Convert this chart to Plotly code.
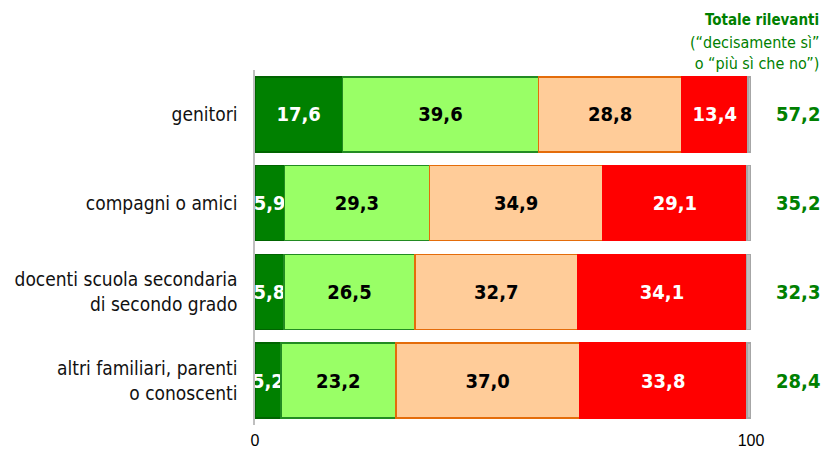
import plotly.graph_objects as go

categories = ["genitori", "compagni o amici", "docenti scuola secondaria<br>di secondo grado",
              "altri familiari, parenti<br>o conoscenti"]
decisamente_si = [17.6, 5.9, 5.8, 5.2]
piu_si_che_no = [39.6, 29.3, 26.5, 23.2]
piu_no_che_si = [28.8, 34.9, 32.7, 37.0]
decisamente_no = [13.4, 29.1, 34.1, 33.8]
non_risponde = [round(100 - a - b - c - d, 1) for a, b, c, d in
                zip(decisamente_si, piu_si_che_no, piu_no_che_si, decisamente_no)]
totale_rilevanti = [57.2, 35.2, 32.3, 28.4]
x_ticks = [0, 100]

def fmt(v):
    return f"{v:.1f}".replace(".", ",")

series = [
    (decisamente_si, "#008000", "#006400", "white", True),
    (piu_si_che_no, "#99FF66", "#228B22", "black", True),
    (piu_no_che_si, "#FFCC99", "#E46C0A", "black", True),
    (decisamente_no, "#FF0000", "#FF0000", "white", True),
    (non_risponde, "#BFBFBF", "#A6A6A6", "black", False),
]

W, H = 824, 452
L, R, T, B = 255, 73, 70, 27
PW, PH = W - L - R, H - T - B

LABEL_FONT = "DejaVu Sans Condensed, Tahoma, sans-serif"
NUM_FONT = "DejaVu Sans Condensed, sans-serif"
NUM_SIZE = 20
fig = go.Figure()
for vals, col, line, tcol, show in series:
    fig.add_trace(go.Bar(
        y=categories, x=vals, orientation="h",
        marker=dict(color=col, line=dict(color=line, width=1.5)),
        text=[fmt(v) for v in vals] if show else None,
        textposition="inside" if show else "none",
        insidetextanchor="middle", textangle=0,
        textfont=dict(color=tcol, size=NUM_SIZE, family=NUM_FONT, weight="bold"),
        showlegend=False, hoverinfo="skip",
    ))

for cat, t in zip(categories, totale_rilevanti):
    fig.add_annotation(x=(798 - L) / PW, y=cat, xref="paper", yref="y", text=f"<b>{fmt(t)}</b>",
                       xanchor="center", yanchor="middle",
                       showarrow=False, font=dict(color="#008000", size=NUM_SIZE, family=NUM_FONT))

fig.add_annotation(x=(821 - L) / PW, y=1 + (T - 20) / PH, xref="paper", yref="paper",
                   xanchor="right", yanchor="middle", align="right", showarrow=False,
                   text="<b>Totale rilevanti</b>",
                   font=dict(color="#008000", size=15, family=LABEL_FONT))
fig.add_annotation(x=(821 - L) / PW, y=1 + (T - 53) / PH, xref="paper", yref="paper",
                   xanchor="right", yanchor="middle", align="right", showarrow=False,
                   text="(“decisamente sì”<br>o “più sì che no”)",
                   font=dict(color="#008000", size=16, family=LABEL_FONT))
fig.update_layout(
    barmode="stack", bargap=0.155,
    width=W, height=H,
    margin=dict(l=L, r=R, t=T, b=B, autoexpand=False),
    plot_bgcolor="white", paper_bgcolor="white",
    uniformtext=dict(minsize=NUM_SIZE, mode="show"),
    xaxis=dict(range=[0, 100], tickvals=x_ticks, ticktext=[str(v) for v in x_ticks],
               showgrid=False, zeroline=False, showline=False,
               tickfont=dict(family="Liberation Sans, Arial", size=16, color="black"),
               ticks="", ticklabelstandoff=4, fixedrange=True),
    yaxis=dict(autorange="reversed", showgrid=False, zeroline=False, showline=True,
               linecolor="#BFBFBF", linewidth=1.5, ticks="", ticklabelstandoff=12,
               tickfont=dict(family=LABEL_FONT, size=19, color="#111111")),
)
fig.write_html("out.html", config={"displayModeBar": False},
               post_script="document.body.style.margin='0';")
